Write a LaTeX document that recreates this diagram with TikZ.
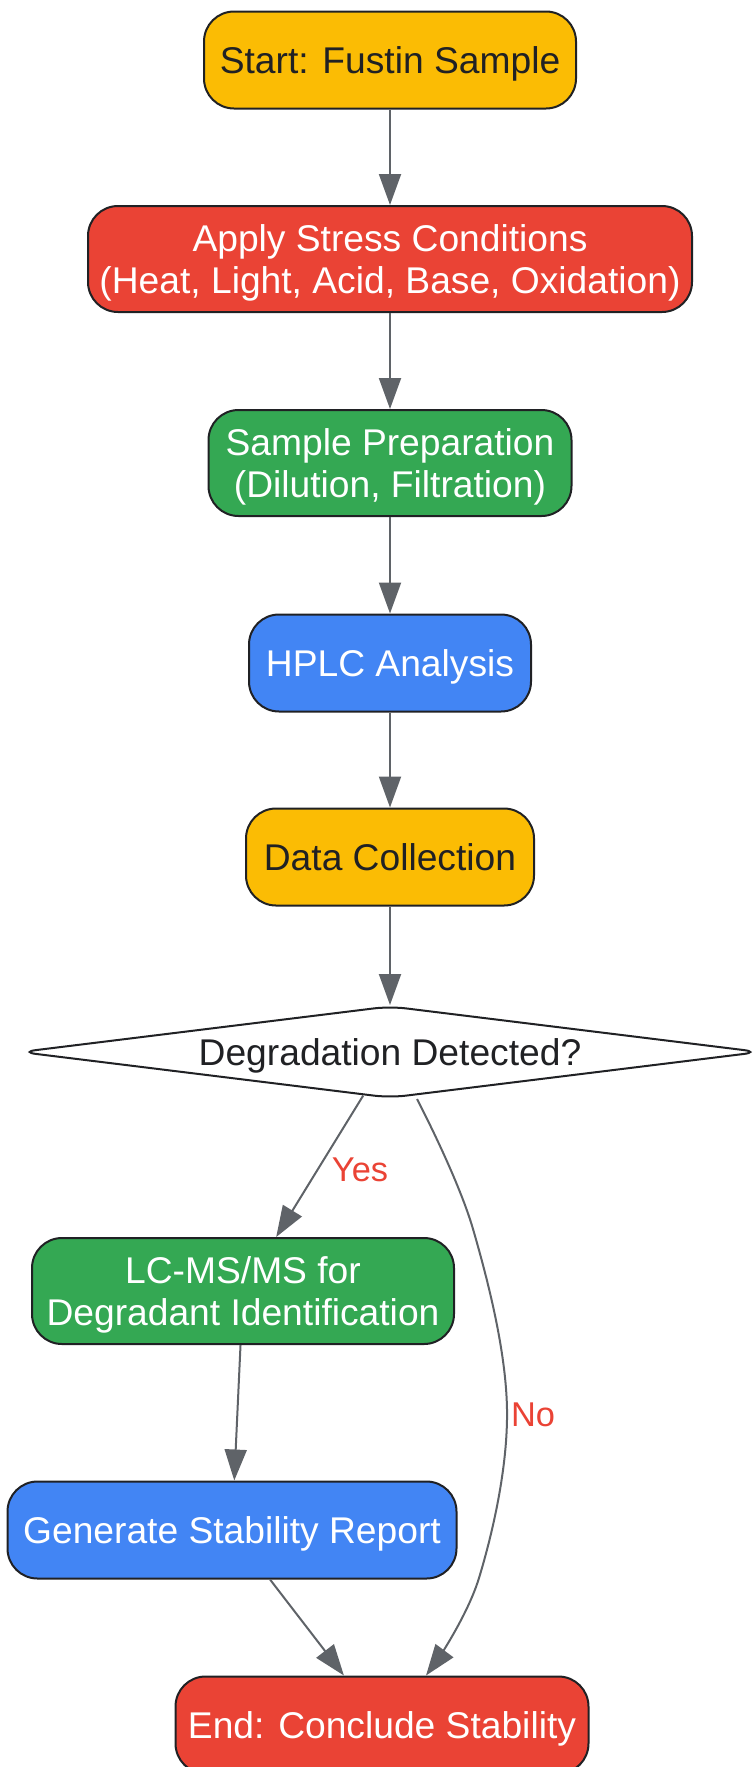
\documentclass[tikz,border=0pt]{standalone}
\usepackage{fontspec}
\setmainfont{Liberation Sans}
\usetikzlibrary{shapes.geometric,arrows.meta}

\definecolor{gYellow}{HTML}{FBBC04}
\definecolor{gRed}{HTML}{EA4335}
\definecolor{gGreen}{HTML}{34A853}
\definecolor{gBlue}{HTML}{4285F4}
\definecolor{edgeGray}{HTML}{5F6368}
\definecolor{inkDark}{HTML}{202124}

\tikzset{
	stepbox/.style={draw=inkDark, line width=1pt, rounded corners=15pt, inner sep=0pt, text depth=0pt,
		align=center, font=\fontsize{18.6}{20.9}\selectfont},
	flow/.style={draw=edgeGray, line width=1pt,
		-{Triangle[length=15.5pt, width=11pt, fill=edgeGray]}},
	edgelabel/.style={text=gRed, font=\fontsize{17.2}{19}\selectfont, inner sep=0pt}
}

\begin{document}
\begin{tikzpicture}[
		x=0.5pt,
		y=-0.5pt
	]

		\useasboundingbox (0,0) rectangle (753,1767);

		% Main column
		\node [stepbox, fill=gYellow, text=inkDark, minimum width=186pt, minimum height=48.5pt] (start) at (390,60) {Start: Fustin Sample};
		\node [stepbox, fill=gRed, text=white, minimum width=302pt, minimum height=53pt] (stress) at (390,259) {Apply Stress Conditions\\(Heat, Light, Acid, Base, Oxidation)};
		\node [stepbox, fill=gGreen, text=white, minimum width=181.5pt, minimum height=53pt] (prep) at (390,463) {Sample Preparation\\(Dilution, Filtration)};
		\node [stepbox, fill=gBlue, text=white, minimum width=141pt, minimum height=48.5pt] (hplc) at (390,663) {HPLC Analysis};
		\node [stepbox, fill=gYellow, text=inkDark, minimum width=144pt, minimum height=48.5pt] (data) at (390,857) {Data Collection};

		% Decision
		\node [diamond, aspect=8, draw=inkDark, line width=1pt, rounded corners=8pt, fill=white, inner sep=0pt, text depth=0pt,
			minimum width=370pt, minimum height=46pt, text=inkDark, font=\fontsize{18.6}{20.9}\selectfont] (dec) at (390,1052) {Degradation Detected?};

		% Branches
		\node [stepbox, fill=gGreen, text=white, minimum width=211pt, minimum height=53pt] (lcms) at (243,1291) {LC-MS/MS for\\Degradant Identification};
		\node [stepbox, fill=gBlue, text=white, minimum width=224.5pt, minimum height=48.5pt] (report) at (232,1530) {Generate Stability Report};
		\node [stepbox, fill=gRed, text=white, minimum width=206.5pt, minimum height=48.5pt] (finish) at (382,1725) {End: Conclude Stability};

		\draw [flow] (start) -- (stress);
		\draw [flow] (stress) -- (prep);
		\draw [flow] (prep) -- (hplc);
		\draw [flow] (hplc) -- (data);
		\draw [flow] (data) -- (dec);

		\draw [flow] (dec) -- (lcms);
		\node [edgelabel] (yes) at (360,1170) {Yes};

		\draw [flow] plot [smooth, tension=0.6] coordinates {([xshift=13.5pt]dec.south) (473,1229) (507,1409) (479,1578) ([xshift=22pt]finish.north)};
		\node [edgelabel] (no) at (533,1415) {No};

		\draw [flow] (lcms) -- (report);
		\draw [flow] (report) -- (finish);
	\end{tikzpicture}
\end{document}
